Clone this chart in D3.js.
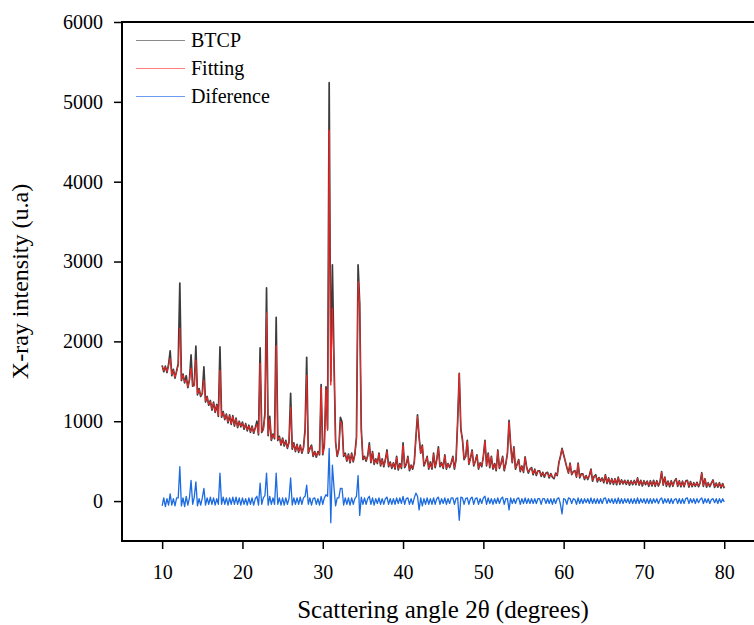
<!DOCTYPE html>
<html>
<head>
<meta charset="utf-8">
<script src="https://cdn.jsdelivr.net/npm/d3@7"></script>
<style>
  body { margin: 0; background: #fff; }
  svg text { font-family: 'Liberation Serif', 'Times New Roman', serif; fill: #000; }
</style>
</head>
<body>
<svg id="fig" width="754" height="625"></svg>
<script>
// scan: 10 to 80 deg, one reading every 0.2 deg
const angleStart = 10;
const angleStep = 0.2;

const btcp = [
    1700, 1620, 1690, 1610, 1710,
    1880, 1570, 1650, 1540, 1630,
    1720, 2730, 1510, 1590, 1480,
    1570, 1420, 1520, 1830, 1440,
    1450, 1940, 1330, 1410, 1310,
    1350, 1680, 1240, 1310, 1200,
    1260, 1140, 1240, 1110, 1210,
    1060, 1930, 1050, 1120, 1020,
    1090, 980, 1080, 960, 1070,
    940, 1040, 920, 1000, 930,
    990, 900, 970, 880, 950,
    860, 940, 850, 920, 1000,
    830, 1920, 860, 900, 1100,
    2670, 820, 1060, 760, 840,
    780, 2300, 760, 810, 700,
    790, 690, 760, 660, 740,
    1350, 650, 730, 620, 710,
    610, 700, 600, 670, 900,
    1800, 600, 660, 700, 560,
    620, 550, 620, 580, 1460,
    580, 700, 1430, 900, 5240,
    1500, 2960, 1770, 740, 560,
    650, 1050, 990, 560, 600,
    500, 590, 480, 600, 490,
    590, 800, 2960, 2480, 900,
    520, 560, 500, 570, 730,
    480, 620, 460, 530, 470,
    600, 440, 530, 430, 520,
    640, 430, 490, 410, 480,
    400, 560, 390, 470, 410,
    730, 420, 460, 560, 380,
    450, 400, 490, 800, 1080,
    800, 600, 700, 440, 490,
    560, 400, 490, 400, 600,
    420, 520, 680, 430, 480,
    410, 580, 400, 470, 420,
    480, 560, 400, 520, 1000,
    1600, 900, 770, 520, 560,
    760, 460, 540, 640, 440,
    500, 580, 400, 480, 430,
    560, 760, 440, 600, 420,
    560, 400, 470, 380, 640,
    410, 470, 560, 380, 470,
    600, 1010, 700, 480, 680,
    400, 460, 520, 370, 440,
    360, 555, 420, 350, 400,
    420, 330, 400, 320, 380,
    380, 310, 360, 300, 350,
    360, 290, 345, 300, 280,
    350, 320, 480, 560, 660,
    580, 500, 420, 350, 475,
    330, 370, 380, 300, 475,
    290, 340, 340, 270, 320,
    270, 320, 400, 250, 310,
    330, 240, 295, 250, 290,
    230, 330, 220, 290, 215,
    280, 210, 280, 205, 300,
    210, 265, 215, 260, 210,
    260, 200, 255, 205, 258,
    205, 290, 200, 260, 190,
    255, 205, 250, 185, 255,
    190, 260, 185, 255, 188,
    240, 370, 200, 300, 185,
    250, 180, 255, 185, 250,
    280, 185, 255, 180, 250,
    180, 250, 260, 175, 245,
    180, 230, 185, 235, 180,
    230, 355, 185, 280, 175,
    230, 180, 225, 265, 170,
    225, 175, 230, 165, 220,
    160
];

const fitting = [
    1690, 1630, 1680, 1620, 1700,
    1790, 1580, 1640, 1550, 1620,
    1700, 2170, 1520, 1580, 1490,
    1520, 1430, 1510, 1670, 1450,
    1440, 1770, 1340, 1400, 1320,
    1340, 1520, 1250, 1300, 1210,
    1250, 1150, 1230, 1120, 1200,
    1070, 1640, 1060, 1110, 1030,
    1080, 990, 1070, 970, 1060,
    950, 1030, 930, 990, 940,
    980, 910, 960, 890, 940,
    870, 930, 860, 910, 960,
    840, 1730, 870, 890, 1050,
    2360, 830, 1020, 770, 830,
    790, 1950, 770, 800, 710,
    780, 700, 750, 670, 730,
    1180, 660, 720, 630, 700,
    620, 690, 610, 660, 860,
    1580, 610, 650, 690, 570,
    610, 560, 610, 585, 1430,
    590, 690, 1400, 880, 4650,
    1450, 2420, 1700, 730, 570,
    640, 1000, 960, 570, 590,
    510, 580, 490, 590, 500,
    580, 780, 2750, 2480, 880,
    530, 550, 510, 560, 700,
    490, 610, 470, 520, 480,
    590, 450, 520, 440, 510,
    620, 440, 480, 420, 470,
    410, 550, 400, 460, 420,
    700, 430, 455, 550, 390,
    445, 410, 485, 780, 1060,
    790, 600, 690, 450, 485,
    550, 410, 480, 410, 590,
    430, 515, 660, 440, 475,
    420, 570, 410, 465, 425,
    475, 550, 410, 515, 990,
    1600, 890, 760, 525, 555,
    750, 470, 535, 630, 450,
    495, 570, 410, 475, 440,
    550, 750, 450, 590, 430,
    555, 410, 465, 390, 630,
    420, 465, 550, 390, 465,
    595, 990, 690, 485, 670,
    410, 455, 515, 380, 435,
    370, 545, 415, 360, 395,
    415, 340, 395, 330, 375,
    375, 320, 355, 310, 345,
    355, 300, 340, 305, 290,
    345, 325, 470, 560, 650,
    575, 500, 420, 355, 470,
    335, 365, 380, 305, 470,
    300, 335, 340, 280, 315,
    280, 315, 395, 260, 305,
    320, 250, 290, 255, 285,
    240, 325, 230, 285, 225,
    275, 220, 275, 215, 295,
    220, 260, 220, 255, 218,
    255, 210, 250, 212, 250,
    212, 285, 208, 255, 200,
    250, 212, 245, 195, 248,
    198, 252, 195, 248, 196,
    238, 365, 208, 295, 195,
    245, 190, 248, 192, 245,
    275, 192, 250, 188, 245,
    188, 245, 255, 185, 240,
    188, 225, 192, 230, 188,
    228, 350, 192, 275, 185,
    225, 188, 220, 260, 180,
    220, 182, 225, 175, 215,
    168
];

const diference = [
    -60, 40, -70, 30, -50,
    90, -50, 30, -60, 40,
    40, 430, -60, 40, -70,
    60, -50, 40, 260, -40,
    50, 240, -60, 30, -50,
    40, 160, -50, 40, -40,
    50, -40, 40, -50, 30,
    -40, 350, -40, 50, -40,
    40, -50, 40, -40, 50,
    -40, 50, -40, 40, -50,
    40, -40, 30, -50, 40,
    -40, 40, -50, 30, 60,
    -50, 225, -40, 40, 70,
    350, -50, 60, -40, 40,
    -40, 350, -40, 40, -50,
    40, -50, 40, -40, 30,
    290, -50, 40, -40, 40,
    -40, 50, -40, 40, 60,
    200, -40, 40, -50, 30,
    40, -40, 30, -50, 60,
    -40, 40, 80, 60, 660,
    -270, 450, 170, -60, 40,
    40, 160, 160, -50, 40,
    -40, 40, -50, 40, -40,
    30, 60, 320, -180, 50,
    -40, 40, -40, 30, 60,
    -40, 40, -50, 30, -30,
    40, -40, 30, -40, 30,
    50, -40, 30, -40, 30,
    -40, 40, -30, 40, -30,
    60, -40, 30, 40, -40,
    30, -40, 40, 100, 60,
    -110, 40, -60, 30, -40,
    40, -40, 30, -40, 40,
    -40, 30, 50, -40, 30,
    -30, 40, -40, 30, -30,
    40, 40, -40, 30, 40,
    -240, 50, 40, -40, 30,
    40, -40, 30, 50, -40,
    30, 40, -40, 30, -30,
    40, 60, -40, 40, -30,
    30, -40, 30, -30, 40,
    -30, 30, 50, -40, 30,
    30, -110, 40, -30, 30,
    -30, 30, 40, -40, 30,
    -30, 40, -30, 30, -30,
    30, -30, 30, -30, 30,
    30, -40, 30, 30, -30,
    30, -30, 30, -40, 30,
    -30, 30, 40, -40, -160,
    30, 20, -40, 40, 30,
    -30, 30, 20, -40, 40,
    -30, 30, -30, 30, -20,
    30, -30, 40, -30, 30,
    -30, 30, -30, 30, -30,
    30, 40, -30, 30, -20,
    30, -30, 30, -30, 40,
    -30, 30, -30, 30, -20,
    30, -30, 30, -30, 30,
    -30, 40, -30, 30, -20,
    30, -30, 30, -30, 30,
    -30, 30, -20, 30, -30,
    20, 40, -30, 30, -20,
    30, -30, 30, -30, 20,
    30, -30, 30, -30, 30,
    -30, 30, 40, -30, 30,
    -20, 30, -30, 30, -20,
    20, 40, -30, 30, -20,
    30, -30, 20, 30, -20,
    30, -30, 30, -20, 30,
    -10
];

const xTicks = [10, 20, 30, 40, 50, 60, 70, 80];
const yTicks = [0, 1000, 2000, 3000, 4000, 5000, 6000];
const seriesNames = ['BTCP', 'Fitting', 'Diference'];
const seriesColors = ['#3c3c3c', '#f52525', '#1c6be0'];
const seriesWidths = [1.7, 1, 1.3];
const legendColors = ['#8a8a8a', '#ff7d7d', '#6a9cf0'];

const draw = () => {
    const svg = d3.select('#fig');
    const margin = { top: 22, left: 122, bottom: 84 };
    const height = +svg.attr('height');
    const innerHeight = height - margin.top - margin.bottom;

    // x range goes past the right edge: the right spine is cut off in the original
    const xScale = d3.scaleLinear().domain([5, 85]).range([margin.left, margin.left + 80 * 8.03]);
    const yScale = d3.scaleLinear().domain([-500, 6000]).range([margin.top + innerHeight, margin.top]);

    const series = [btcp, fitting, diference].map((vals, k) => ({
        name: seriesNames[k],
        color: seriesColors[k],
        width: seriesWidths[k],
        points: vals.map((v, i) => [angleStart + i * angleStep, v])
    }));

    const line = d3.line()
        .x(d => xScale(d[0]))
        .y(d => yScale(d[1]));

    svg.append('g').selectAll('path').data(series).join('path')
        .attr('d', d => line(d.points))
        .attr('fill', 'none')
        .attr('stroke', d => d.color)
        .attr('stroke-width', d => d.width)
        .attr('stroke-linejoin', 'round');

    // frame
    svg.append('rect')
        .attr('x', xScale(5))
        .attr('y', yScale(6000))
        .attr('width', xScale(85) - xScale(5))
        .attr('height', yScale(-500) - yScale(6000))
        .attr('fill', 'none')
        .attr('stroke', '#000')
        .attr('stroke-width', 2);

    const fmt = d3.format('d');
    const xAxis = svg.append('g')
        .attr('transform', `translate(0, ${yScale(-500)})`)
        .call(d3.axisBottom(xScale).tickValues(xTicks).tickFormat(fmt).tickSize(8).tickSizeOuter(0).tickPadding(16));
    const yAxis = svg.append('g')
        .attr('transform', `translate(${xScale(5)}, 0)`)
        .call(d3.axisLeft(yScale).tickValues(yTicks).tickFormat(fmt).tickSize(8).tickSizeOuter(0).tickPadding(11));
    [xAxis, yAxis].forEach(g => {
        g.attr('font-family', null);
        g.select('.domain').remove();
        g.selectAll('.tick line').attr('stroke', '#000').attr('stroke-width', 1.5);
        g.selectAll('.tick text')
            .attr('font-size', 20)
            .style('font-family', "'Liberation Serif', 'Times New Roman', serif");
    });

    svg.append('text')
        .attr('transform', `translate(28, ${margin.top + innerHeight / 2}) rotate(-90)`)
        .attr('text-anchor', 'middle')
        .attr('font-size', 24)
        .text('X-ray intensity (u.a)');

    svg.append('text')
        .attr('x', 443)
        .attr('y', 618)
        .attr('text-anchor', 'middle')
        .attr('font-size', 25)
        .text('Scattering angle 2θ (degrees)');

    const legend = svg.append('g').selectAll('.legend')
        .data(seriesNames).join('g')
        .attr('class', 'legend')
        .attr('transform', (d, i) => `translate(136, ${40 + i * 28})`);
    legend.append('line')
        .attr('x1', 0).attr('x2', 49)
        .attr('y1', 0.5).attr('y2', 0.5)
        .attr('stroke', (d, i) => legendColors[i])
        .attr('stroke-width', 1.2);
    legend.append('text')
        .attr('x', 55)
        .attr('y', 0)
        .attr('dy', '0.35em')
        .attr('font-size', 20)
        .text(d => d);
};

draw();
</script>
</body>
</html>
